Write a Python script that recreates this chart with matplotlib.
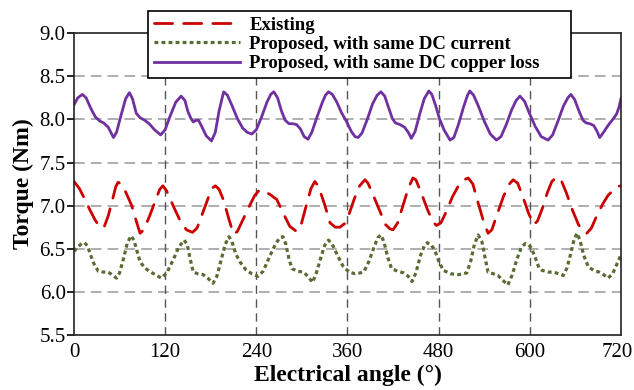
import matplotlib
matplotlib.use("Agg")
import matplotlib.pyplot as plt
from matplotlib.transforms import ScaledTranslation

plt.rcParams['font.family'] = ['Liberation Serif', 'DejaVu Serif']

# Existing machine (red dashed)
ang_exist = [0, 7, 14, 21, 28, 35, 40, 45, 51, 55, 58, 63, 69, 76, 82, 87, 92, 100, 108, 113,
             117, 122, 131, 140, 148, 156, 162, 170, 178, 183, 186, 191, 197, 204, 210, 215, 222,
             230, 238, 244, 250, 258, 267, 275, 284, 293, 299, 306, 312, 317, 322, 330, 337, 344,
             350, 356, 362, 369, 376, 383, 387, 392, 401, 410, 416, 420, 426, 433, 440, 446, 450,
             457, 465, 472, 477, 483, 490, 498, 506, 513, 519, 525, 532, 539, 545, 550, 557, 565,
             572, 578, 584, 591, 598, 605, 610, 617, 623, 629, 635, 641, 648, 656, 664, 670, 675,
             681, 688, 696, 703, 710, 715, 720]
tq_exist = [7.28, 7.20, 7.08, 6.95, 6.83, 6.74, 6.76, 6.88, 7.08, 7.22, 7.27, 7.25, 7.14, 7.00,
            6.82, 6.68, 6.72, 6.89, 7.08, 7.19, 7.23, 7.17, 6.99, 6.82, 6.72, 6.69, 6.74, 6.93,
            7.12, 7.21, 7.23, 7.19, 7.06, 6.84, 6.67, 6.70, 6.83, 6.98, 7.12, 7.18, 7.17, 7.13,
            7.07, 6.92, 6.76, 6.70, 6.78, 7.01, 7.20, 7.28, 7.22, 7.01, 6.80, 6.75, 6.75, 6.79,
            6.90, 7.08, 7.23, 7.30, 7.26, 7.16, 6.97, 6.78, 6.73, 6.72, 6.80, 7.00, 7.20, 7.32,
            7.30, 7.15, 6.96, 6.82, 6.77, 6.80, 6.93, 7.10, 7.23, 7.30, 7.32, 7.25, 7.03, 6.82,
            6.68, 6.72, 6.90, 7.10, 7.24, 7.30, 7.26, 7.10, 6.92, 6.78, 6.82, 6.98, 7.15, 7.28,
            7.33, 7.30, 7.15, 6.95, 6.78, 6.70, 6.68, 6.74, 6.88, 7.02, 7.12, 7.18, 7.22, 7.23]

# Proposed, same DC current (green dotted)
ang_cur = [0, 5, 10, 14, 18, 21, 26, 32, 38, 45, 50, 56, 60, 65, 70, 75, 79, 83, 87, 93, 99,
           107, 115, 122, 130, 138, 145, 149, 153, 157, 163, 170, 176, 183, 188, 194, 199, 204,
           208, 213, 219, 226, 234, 242, 249, 257, 265, 271, 275, 279, 283, 287, 294, 302, 308,
           314, 319, 325, 330, 335, 340, 347, 354, 362, 370, 377, 382, 388, 395, 400, 404, 408,
           413, 418, 426, 434, 440, 445, 450, 456, 461, 465, 470, 475, 480, 486, 496, 506, 512,
           517, 522, 527, 532, 537, 541, 545, 552, 558, 565, 571, 577, 583, 589, 594, 598, 602,
           607, 612, 616, 624, 631, 638, 644, 649, 654, 658, 662, 666, 671, 677, 684, 691, 697,
           703, 709, 714, 720]
tq_cur = [6.47, 6.52, 6.56, 6.57, 6.53, 6.45, 6.33, 6.24, 6.23, 6.23, 6.20, 6.16, 6.22, 6.38,
          6.56, 6.65, 6.60, 6.47, 6.35, 6.28, 6.24, 6.20, 6.16, 6.22, 6.36, 6.52, 6.60, 6.55,
          6.38, 6.23, 6.21, 6.20, 6.16, 6.10, 6.18, 6.38, 6.55, 6.64, 6.58, 6.44, 6.34, 6.26,
          6.21, 6.18, 6.24, 6.40, 6.55, 6.63, 6.64, 6.55, 6.38, 6.27, 6.24, 6.23, 6.18, 6.11,
          6.22, 6.40, 6.54, 6.60, 6.55, 6.42, 6.30, 6.23, 6.21, 6.22, 6.24, 6.35, 6.52, 6.63,
          6.66, 6.58, 6.40, 6.27, 6.24, 6.22, 6.18, 6.12, 6.22, 6.42, 6.53, 6.57, 6.55, 6.48,
          6.36, 6.25, 6.21, 6.20, 6.21, 6.22, 6.35, 6.55, 6.66, 6.58, 6.40, 6.23, 6.21, 6.19,
          6.13, 6.08, 6.20, 6.38, 6.52, 6.56, 6.55, 6.51, 6.40, 6.28, 6.25, 6.23, 6.23, 6.21,
          6.19, 6.28, 6.45, 6.60, 6.68, 6.60, 6.42, 6.29, 6.25, 6.23, 6.20, 6.16, 6.21, 6.31,
          6.43]

# Proposed, same DC copper loss (purple solid)
ang_loss = [0, 5, 11, 16, 22, 28, 34, 39, 45, 49, 52, 56, 62, 68, 73, 77, 82, 87, 93, 99, 106,
            114, 120, 127, 134, 141, 146, 150, 154, 157, 161, 164, 168, 174, 181, 186, 191, 197,
            202, 208, 215, 222, 228, 234, 240, 247, 254, 259, 263, 268, 273, 278, 283, 288, 293,
            298, 303, 308, 313, 320, 327, 331, 335, 340, 346, 352, 359, 365, 370, 374, 379, 386,
            393, 399, 404, 409, 414, 419, 423, 429, 435, 440, 444, 449, 455, 461, 467, 471, 476,
            481, 487, 495, 500, 506, 513, 518, 521, 526, 532, 540, 548, 556, 562, 569, 576, 582,
            587, 593, 600, 607, 615, 624, 630, 637, 644, 650, 654, 659, 665, 670, 674, 679, 684,
            688, 692, 697, 703, 710, 714, 717, 720]
tq_loss = [8.17, 8.25, 8.29, 8.25, 8.13, 8.03, 7.98, 7.96, 7.91, 7.84, 7.79, 7.85, 8.05, 8.24,
           8.31, 8.24, 8.07, 8.02, 7.99, 7.95, 7.88, 7.82, 7.88, 8.05, 8.20, 8.27, 8.22, 8.09,
           8.01, 7.97, 7.99, 7.99, 7.92, 7.81, 7.75, 7.85, 8.10, 8.32, 8.28, 8.16, 8.01, 7.90,
           7.85, 7.83, 7.88, 8.03, 8.20, 8.29, 8.32, 8.25, 8.10, 7.99, 7.95, 7.95, 7.94, 7.89,
           7.80, 7.77, 7.85, 8.03, 8.20, 8.28, 8.32, 8.29, 8.20, 8.08, 7.97, 7.86, 7.80, 7.79,
           7.84, 8.00, 8.18, 8.28, 8.32, 8.27, 8.14, 8.01, 7.96, 7.94, 7.91, 7.85, 7.78, 7.86,
           8.06, 8.24, 8.33, 8.29, 8.16, 8.01, 7.88, 7.76, 7.79, 7.94, 8.15, 8.28, 8.33, 8.28,
           8.16, 7.98, 7.83, 7.76, 7.80, 7.94, 8.11, 8.22, 8.27, 8.21, 8.06, 7.92, 7.80, 7.76,
           7.82, 7.98, 8.15, 8.25, 8.29, 8.23, 8.09, 7.99, 7.96, 7.95, 7.93, 7.87, 7.79, 7.85,
           7.93, 8.01, 8.06, 8.13, 8.24]

x_ticks = [0, 120, 240, 360, 480, 600, 720]
y_ticks = [5.5, 6.0, 6.5, 7.0, 7.5, 8.0, 8.5, 9.0]

fig = plt.figure(figsize=(6.34, 3.9), dpi=100)
ax = fig.add_axes([0.1167, 0.141, 0.8628, 0.774])

l1, = ax.plot(ang_exist, tq_exist, color='#cc0000', lw=2.0, linestyle=(0, (6.5, 4.0)),
              dash_capstyle='round', label='Existing')
l2, = ax.plot(ang_cur, tq_cur, color='#5a6b34', lw=2.3, linestyle=(0, (1.2, 1.0)),
              label='Proposed, with same DC current')
l3, = ax.plot(ang_loss, tq_loss, color='#7030a0', lw=2.0, label='Proposed, with same DC copper loss')

ax.set_xlim(0, 720)
ax.set_ylim(5.5, 9.0)
ax.set_xticks(x_ticks)
ax.set_yticks(y_ticks)
ax.set_yticklabels([f'{v:.1f}' for v in y_ticks])

for v in y_ticks[1:-1]:
    ax.axhline(v, color='#999999', lw=1.1, linestyle=(0, (7, 4)), zorder=0)
for v in x_ticks[1:-1]:
    ax.axvline(v, color='#555555', lw=1.0, linestyle=(0, (6, 4)), zorder=0)

for s in ax.spines.values():
    s.set_color('#222222')
    s.set_linewidth(1.2)

ax.tick_params(axis='y', direction='out', length=5, width=1.2, labelsize=15, pad=1)
ax.tick_params(axis='x', length=0, labelsize=15, pad=6)

# keep the last x tick label inside the figure
last = ax.get_xticklabels()[-1]
last.set_transform(last.get_transform() + ScaledTranslation(-4 / 100, 0, fig.dpi_scale_trans))

ax.set_xlabel('Electrical angle (°)', fontsize=17, fontweight='bold', labelpad=2)
ax.set_ylabel('Torque (Nm)', fontsize=17, fontweight='bold', labelpad=4)

leg = fig.legend(handles=[l1, l2, l3], loc='upper left',
                 bbox_to_anchor=(148 / 634, 0.972, (571 - 148) / 634, 0.0), mode='expand',
                 prop={'size': 13.5, 'weight': 'bold'}, handlelength=4.6, handletextpad=0.5,
                 labelspacing=0.12, borderpad=0.3, fancybox=False, framealpha=1,
                 edgecolor='black', borderaxespad=0)
leg.get_frame().set_linewidth(1.2)

fig.savefig('out.png', dpi=100)
